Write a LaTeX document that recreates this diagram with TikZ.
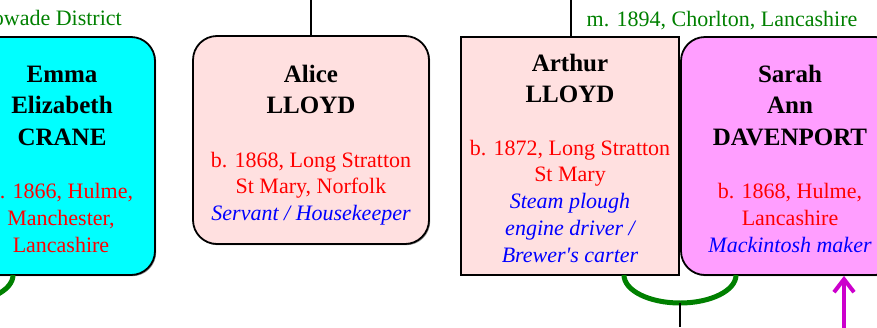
\documentclass[tikz,border=0pt]{standalone}
\usepackage{fontspec}
\setmainfont{Liberation Serif}
\usetikzlibrary{arrows.meta,shadows}
\definecolor{pinkbox}{RGB}{255,224,224}
\definecolor{sarahbox}{RGB}{255,158,255}
\definecolor{cyanbox}{RGB}{0,255,255}
\definecolor{mgreen}{RGB}{0,128,0}
\definecolor{arrowmag}{RGB}{204,0,204}
\tikzset{
  personbox/.style={draw=black, line width=1.8pt, inner sep=0pt, minimum width=218pt, minimum height=238pt,
    drop shadow={shadow xshift=1.2pt, shadow yshift=-1.2pt, fill=black!45, opacity=1}},
  roundbox/.style={personbox, rounded corners=24pt},
  nm/.style={font=\fontsize{25}{30}\selectfont\bfseries, anchor=base, inner sep=0pt},
  bd/.style={font=\fontsize{22}{26}\selectfont, text=red, anchor=base, inner sep=0pt},
  oc/.style={font=\fontsize{22}{26}\selectfont\itshape, text=blue, anchor=base, inner sep=0pt},
  mar/.style={font=\fontsize{22}{26}\selectfont, text=mgreen, anchor=base, inner sep=0pt},
  marr/.style={draw=mgreen, line width=5pt},
  conn/.style={draw=black, line width=1.5pt},
  uparrow/.style={draw=arrowmag, line width=4pt, -{Straight Barb[length=13pt,width=20pt]}},
}
\begin{document}
\begin{tikzpicture}[x=1pt,y=-1pt]
\useasboundingbox (0,0) rectangle (877,327);
\clip (0,0) rectangle (877,327);

% marriage labels
\node[mar, anchor=base east] (mlabel1) at (122,25) {owade District};
\node[mar] (mlabel2) at (722,26) {m. 1894, Chorlton, Lancashire};

% boxes
\node[roundbox, fill=cyanbox, minimum width=186pt] (emma) at (62,156) {};
\node[roundbox, fill=pinkbox, minimum width=236pt, minimum height=208pt] (alice) at (311,140) {};
\node[personbox, fill=pinkbox] (arthur) at (570,156) {};
\node[roundbox, fill=sarahbox] (sarah) at (790,156) {};

% Emma text
\node[nm] (e1) at (62,82) {Emma};
\node[nm] (e2) at (62,113.5) {Elizabeth};
\node[nm] (e3) at (62,145) {CRANE};
\node[bd] (e4) at (61,198) {b. 1866, Hulme,};
\node[bd] (e5) at (61,225) {Manchester,};
\node[bd] (e6) at (61,252) {Lancashire};

% Alice text
\node[nm] (a1) at (311,82) {Alice};
\node[nm] (a2) at (311,113.5) {LLOYD};
\node[bd] (a3) at (311,167) {b. 1868, Long Stratton};
\node[bd] (a4) at (311,193.5) {St Mary, Norfolk};
\node[oc] (a5) at (311,220) {Servant / Housekeeper};

% Arthur text
\node[nm] (r1) at (570,71) {Arthur};
\node[nm] (r2) at (570,102.5) {LLOYD};
\node[bd] (r3) at (570,155) {b. 1872, Long Stratton};
\node[bd] (r4) at (570,181.5) {St Mary};
\node[oc] (r5) at (570,208) {Steam plough};
\node[oc] (r6) at (570,235) {engine driver /};
\node[oc] (r7) at (570,262) {Brewer\textquotesingle s carter};

% Sarah text
\node[nm] (s1) at (790,82) {Sarah};
\node[nm] (s2) at (790,113.5) {Ann};
\node[nm] (s3) at (790,145) {DAVENPORT};
\node[bd] (s4) at (790,198) {b. 1868, Hulme,};
\node[bd] (s5) at (790,225) {Lancashire};
\node[oc] (s6) at (790,252) {Mackintosh maker};

% connectors to parents
\coordinate (alicetop) at (311,0);
\coordinate (arthurtop) at (571,0);
\draw[conn] (alicetop) -- (alicetop |- alice.north);
\draw[conn] (arthurtop) -- (arthurtop |- arthur.north);

% marriage arcs
\coordinate (m1a) at (624,275);
\coordinate (m1mid) at (680,303);
\coordinate (m1down) at (680,327);
\draw[marr] (m1a) arc[start angle=180, end angle=0, x radius=56, y radius=28];
\draw[conn] (m1mid) -- (m1down);

\coordinate (m0b) at (-99,275);
\draw[marr] (m0b) arc[start angle=180, end angle=0, x radius=56, y radius=28];

% arrow to Sarah
\coordinate (arrowbot) at (844,330);
\draw[uparrow] (arrowbot) -- (arrowbot |- sarah.south);
\end{tikzpicture}
\end{document}
